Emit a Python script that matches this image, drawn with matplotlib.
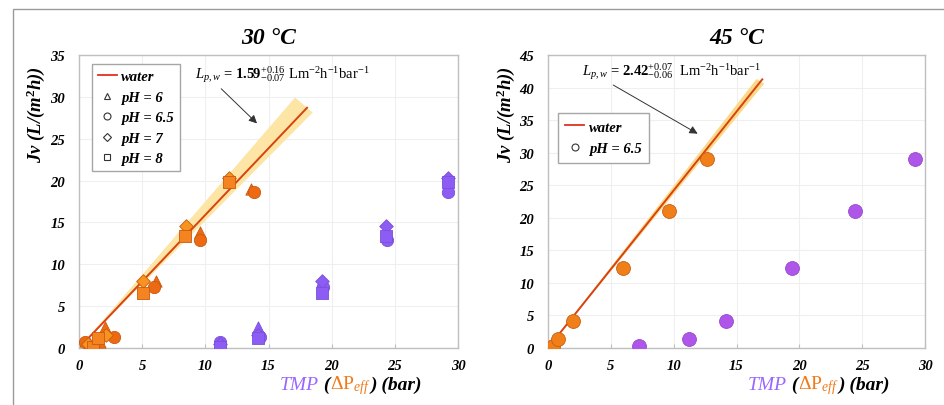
import matplotlib as mpl
mpl.use('Agg')
import matplotlib.pyplot as plt
import numpy as np
from matplotlib.lines import Line2D
from matplotlib.patches import Rectangle
from matplotlib.offsetbox import TextArea, HPacker, AnnotationBbox

plt.rcParams['font.family'] = ['Liberation Serif', 'DejaVu Serif']
plt.rcParams['mathtext.fontset'] = 'custom'
plt.rcParams['mathtext.rm'] = 'Liberation Serif'
plt.rcParams['mathtext.it'] = 'Liberation Serif:italic'
plt.rcParams['mathtext.bf'] = 'Liberation Serif:bold'

############ DATA #############
# 30 C, Jv vs dPeff (orange) and vs TMP (purple), one set per pH
ph6_dp = [1.66, 2.06, 6.1, 9.6, 13.6]
ph6_tmp = [11.2, 14.2, 19.2, 24.3, 29.2]
ph6_jv = [0.7, 2.47, 8.0, 13.8, 19.0]

ph65_dp = [0.47, 2.77, 5.9, 9.6, 13.85]
ph65_tmp = [11.2, 14.3, 19.3, 24.4, 29.2]
ph65_jv = [0.7, 1.3, 7.3, 12.9, 18.6]

ph7_dp = [0.74, 2.14, 5.1, 8.5, 11.9]
ph7_tmp = [11.2, 14.2, 19.2, 24.3, 29.2]
ph7_jv = [0.5, 1.6, 8.0, 14.6, 20.3]

ph8_dp = [1.13, 1.48, 5.1, 8.4, 11.9]
ph8_tmp = [11.2, 14.2, 19.2, 24.3, 29.2]
ph8_jv = [0.1, 1.2, 6.6, 13.4, 19.8]

# 45 C, pH 6.5
h_dp = [0.37, 0.82, 1.99, 5.97, 9.6, 12.65]
h_tmp = [7.24, 11.2, 14.2, 19.45, 24.45, 29.2]
h_jv = [0.35, 1.45, 4.15, 12.3, 21.1, 29.1]

# water permeability fits
lp30, lp30_up, lp30_dn = 1.59, 0.16, 0.07
lp45, lp45_up, lp45_dn = 2.42, 0.07, 0.06
fit30_end, band30_up_end, band30_dn_end = 18.05, 17.1, 18.5
fit45_end, band45_up_end, band45_dn_end = 17.05, 16.6, 17.2

############ STYLE #############
c_purple = '#8D5CF5'
c_purple2 = '#AE55EA'
c_fit = '#D9410E'
c_band = '#FDE5A6'
oranges = {'6': '#EE6A12', '6.5': '#EE6A12', '7': '#F7931E', '8': '#F58420'}
markers = {'6': '^', '6.5': 'o', '7': 'D', '8': 's'}
msizes = {'6': 66, '6.5': 78, '7': 48, '8': 68}
tick_font = dict(family='Liberation Serif', weight='bold', style='italic', size=10.5)

fig = plt.figure(figsize=(9.45, 4.06), dpi=100)
ax1 = fig.add_axes([79/945, 1-349/406, 379/945, 293/406])
ax2 = fig.add_axes([548/945, 1-349/406, 377/945, 293/406])


def style_axes(ax, ymax):
    ax.set_xlim(0, 30)
    ax.set_ylim(0, ymax)
    ax.set_xticks(np.arange(0, 31, 5))
    ax.set_yticks(np.arange(0, ymax + 1, 5))
    ax.grid(True, color='#EFEFEF', lw=0.8, zorder=0)
    ax.set_axisbelow(True)
    for s in ax.spines.values():
        s.set_color('#BFBFBF')
        s.set_linewidth(1.0)
    ax.tick_params(axis='x', direction='in', length=3, color='#BFBFBF', pad=8)
    ax.tick_params(axis='y', length=0, pad=10)
    for lab in ax.get_xticklabels() + ax.get_yticklabels():
        lab.set(**tick_font)


def band(ax, lp, up, dn, x_up, x_dn, x_fit, color):
    px = [0, x_up, x_dn, 0]
    py = [0, (lp + up) * x_up, (lp - dn) * x_dn, 0]
    ax.fill(px, py, color=color, lw=0, zorder=1)
    xf = np.array([0, x_fit])
    ax.plot(xf, lp * xf, color=c_fit, lw=1.4, zorder=2)


def tmp_label(x, y):
    base = dict(family='Liberation Serif', size=14)
    parts = [
        TextArea('TMP', textprops=dict(color='#9966FF', style='italic', **base)),
        TextArea(' (', textprops=dict(color='black', style='italic', weight='bold', **base)),
        TextArea('ΔP$_{eff}$', textprops=dict(color='#F07A1A', **base)),
        TextArea(') (bar)', textprops=dict(color='black', style='italic', weight='bold', **base)),
    ]
    box = HPacker(children=parts, align='baseline', pad=0, sep=0)
    ab = AnnotationBbox(box, (x, y), xycoords='figure fraction', frameon=False,
                        box_alignment=(0.5, 0.5), annotation_clip=False)
    fig.add_artist(ab)


############ 30 C #############
style_axes(ax1, 35)
band(ax1, lp30, lp30_up, lp30_dn, band30_up_end, band30_dn_end, fit30_end, c_band)
series = [('6', ph6_dp, ph6_tmp, ph6_jv), ('6.5', ph65_dp, ph65_tmp, ph65_jv),
          ('7', ph7_dp, ph7_tmp, ph7_jv), ('8', ph8_dp, ph8_tmp, ph8_jv)]
for ph, dp, tmp, jv in series:
    ax1.scatter(dp, jv, marker=markers[ph], s=msizes[ph], color=oranges[ph],
                edgecolor='#C85A10', linewidth=0.6, zorder=3)
    ax1.scatter(tmp, jv, marker=markers[ph], s=msizes[ph], color=c_purple,
                edgecolor='#7A4FD8', linewidth=0.6, zorder=3)

handles = [Line2D([], [], color='#E0301E', lw=1.3)]
labels = ['water']
for ph in ['6', '6.5', '7', '8']:
    handles.append(Line2D([], [], ls='', marker=markers[ph], ms=5 if ph != '7' else 4.5,
                          mfc='white', mec='#333333', mew=0.8))
    labels.append(f'pH = {ph}')
leg = ax1.legend(handles, labels, loc='upper left', bbox_to_anchor=(0.034, 0.968),
                 prop=dict(family='Liberation Serif', weight='bold', style='italic', size=10.5),
                 frameon=True, fancybox=False, edgecolor='#A6A6A6', framealpha=1,
                 handlelength=1.3, handletextpad=0.3, labelspacing=0.5, borderpad=0.4,
                 borderaxespad=0)
leg.get_frame().set_linewidth(1.0)

ax1.text(9.2, 32.7, r'$L_{p,w}$ = $\mathbf{1.59}^{+0.16}_{-0.07}$ Lm$^{-2}$h$^{-1}$bar$^{-1}$',
         fontsize=10.5, va='center', ha='left', zorder=5)
ax1.annotate('', xy=(14.25, 26.6), xytext=(11.1, 31.2),
             arrowprops=dict(arrowstyle='-|>', color='#333333', lw=0.7, mutation_scale=12))
ax1.set_title('30 °C', fontsize=17, weight='bold', style='italic', pad=9)

############ 45 C #############
style_axes(ax2, 45)
band(ax2, lp45, lp45_up, lp45_dn, band45_up_end, band45_dn_end, fit45_end, '#FAD98A')
ax2.scatter(h_dp, h_jv, marker='o', s=100, color='#F07F1A', edgecolor='#C86010',
            linewidth=0.6, zorder=3)
ax2.scatter(h_tmp, h_jv, marker='o', s=100, color=c_purple2, edgecolor='#9A48D0',
            linewidth=0.6, zorder=3)

handles2 = [Line2D([], [], color='#E0301E', lw=1.3),
            Line2D([], [], ls='', marker='o', ms=5, mfc='white', mec='#333333', mew=0.8)]
leg2 = ax2.legend(handles2, ['water', 'pH = 6.5'], loc='upper left', bbox_to_anchor=(0.027, 0.802),
                  prop=dict(family='Liberation Serif', weight='bold', style='italic', size=10.5),
                  frameon=True, fancybox=False, edgecolor='#A6A6A6', framealpha=1,
                  handlelength=1.3, handletextpad=0.3, labelspacing=0.6, borderpad=0.5,
                  borderaxespad=0)
leg2.get_frame().set_linewidth(1.0)

ax2.text(2.7, 42.5, r'$L_{p,w}$ = $\mathbf{2.42}^{+0.07}_{-0.06}$  Lm$^{-2}$h$^{-1}$bar$^{-1}$',
         fontsize=10.5, va='center', ha='left', zorder=5)
ax2.annotate('', xy=(12.1, 32.7), xytext=(5.0, 40.6),
             arrowprops=dict(arrowstyle='-|>', color='#333333', lw=0.7, mutation_scale=12))
ax2.set_title('45 °C', fontsize=17, weight='bold', style='italic', pad=9)

############ LABELS #############
ylab = dict(fontsize=13.5, weight='bold', style='italic', rotation=90, ha='center', va='center')
fig.text(36/945, 1-114/406, 'Jv (L/(m$^\\mathbf{2}$h))', **ylab)
fig.text(506/945, 1-114/406, 'Jv (L/(m$^\\mathbf{2}$h))', **ylab)
tmp_label(351/945, 1-386/406)
tmp_label(819/945, 1-386/406)

# outer frame
fig.add_artist(Rectangle((13/945, -0.1), 1.2, 1.1 - 10/406, transform=fig.transFigure,
                         fill=False, edgecolor='#9A9A9A', lw=1.0, clip_on=False))

fig.savefig('out.png', dpi=100)
